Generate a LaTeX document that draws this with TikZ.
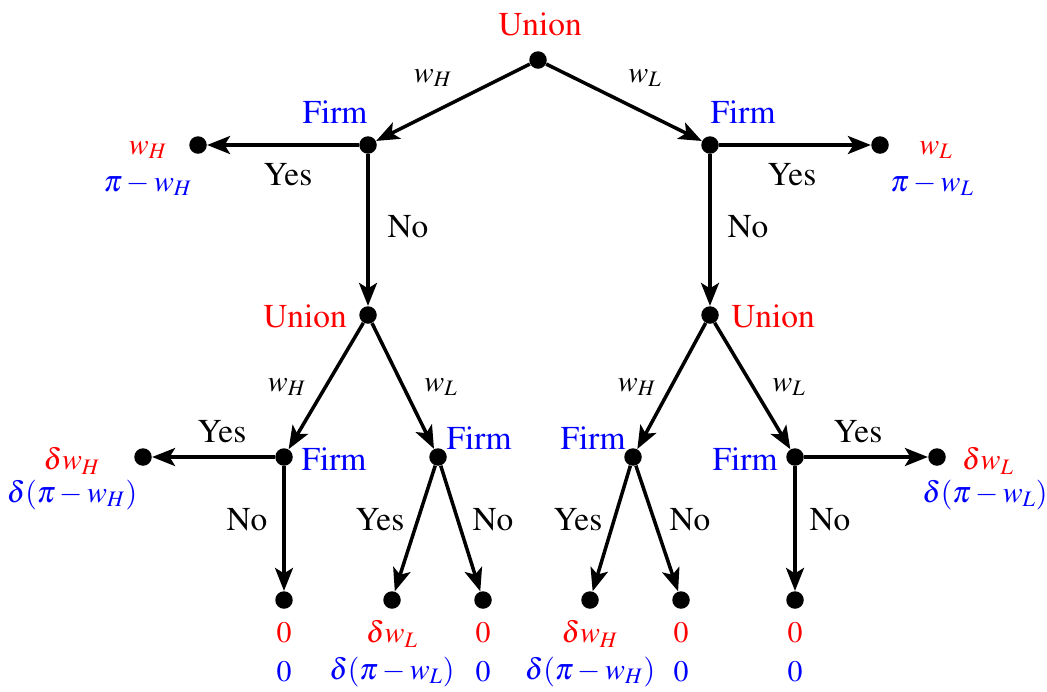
\documentclass[tikz,border=0pt]{standalone}
\usepackage[T1]{fontenc}
\usepackage{mathptmx}
\usetikzlibrary{arrows.meta}
\begin{document}
\begin{tikzpicture}[x=0.02cm,y=-0.02cm,
  dot/.style={circle,fill=black,inner sep=0pt,minimum size=0.35cm},
  edge/.style={line width=2pt,-{Stealth[length=0.46cm,width=0.36cm,inset=0.11cm]}},
  lbl/.style={font=\fontsize{19}{22}\selectfont,inner sep=0pt},
  mlb/.style={font=\fontsize{17}{20}\selectfont,inner sep=0pt},
  un/.style={lbl,text=red},
  fm/.style={lbl,text=blue},
  pr/.style={mlb,text=red},
  pb/.style={mlb,text=blue}]
\useasboundingbox (0,0) rectangle (1047,691);
% decision nodes
\node[dot] (r) at (538,60) {};
\node[dot] (fl) at (368,145) {};
\node[dot] (fr) at (710,145) {};
\node[dot] (tl) at (198,145) {};
\node[dot] (tr) at (880,145) {};
\node[dot] (ul) at (368,315) {};
\node[dot] (ur) at (710,315) {};
\node[dot] (fll) at (284,457) {};
\node[dot] (flr) at (438,457) {};
\node[dot] (frl) at (633,457) {};
\node[dot] (frr) at (795,457) {};
\node[dot] (tll) at (143,457) {};
\node[dot] (trr) at (937,457) {};
\node[dot] (n1) at (284,600) {};
\node[dot] (n2) at (392,600) {};
\node[dot] (n3) at (483,600) {};
\node[dot] (n4) at (590,600) {};
\node[dot] (n5) at (681,600) {};
\node[dot] (n6) at (795,600) {};
% player labels
\node[un] (lr) at (540,24) {Union};
\node[fm] (lfl) at (335,112) {Firm};
\node[fm] (lfr) at (743,112) {Firm};
\node[un] (lul) at (305,316) {Union};
\node[un] (lur) at (773,316) {Union};
\node[fm] (lfll) at (334,459) {Firm};
\node[fm] (lflr) at (479,438) {Firm};
\node[fm] (lfrl) at (593,438) {Firm};
\node[fm] (lfrr) at (745,459) {Firm};
% edges
\draw[edge] (r) -- (fl);
\draw[edge] (r) -- (fr);
\draw[edge] (fl) -- (tl);
\draw[edge] (fr) -- (tr);
\draw[edge] (fl) -- (ul);
\draw[edge] (fr) -- (ur);
\draw[edge] (ul) -- (fll);
\draw[edge] (ul) -- (flr);
\draw[edge] (ur) -- (frl);
\draw[edge] (ur) -- (frr);
\draw[edge] (fll) -- (tll);
\draw[edge] (fll) -- (n1);
\draw[edge] (flr) -- (n2);
\draw[edge] (flr) -- (n3);
\draw[edge] (frl) -- (n4);
\draw[edge] (frl) -- (n5);
\draw[edge] (frr) -- (n6);
\draw[edge] (frr) -- (trr);
% edge labels
\node[mlb] (e1) at (433,78) {$w_H$};
\node[mlb] (e2) at (645,78) {$w_L$};
\node[lbl] (e3) at (288,175) {Yes};
\node[lbl] (e4) at (792,175) {Yes};
\node[lbl] (e5) at (408,227) {No};
\node[lbl] (e6) at (748,227) {No};
\node[mlb] (e7) at (287,387) {$w_H$};
\node[mlb] (e8) at (441,387) {$w_L$};
\node[mlb] (e9) at (637,387) {$w_H$};
\node[mlb] (e10) at (789,387) {$w_L$};
\node[lbl] (e11) at (222,432) {Yes};
\node[lbl] (e12) at (858,432) {Yes};
\node[lbl] (e13) at (247,520) {No};
\node[lbl] (e14) at (830,520) {No};
\node[lbl] (e15) at (380,520) {Yes};
\node[lbl] (e16) at (493,520) {No};
\node[lbl] (e17) at (578,520) {Yes};
\node[lbl] (e18) at (690,520) {No};
% payoffs
\node[pr] (p1a) at (148,150) {$w_H$};
\node[pb] (p1b) at (148,185) {$\pi-w_H$};
\node[pr] (p2a) at (936,150) {$w_L$};
\node[pb] (p2b) at (932,185) {$\pi-w_L$};
\node[pr] (p3a) at (72,461) {$\delta w_H$};
\node[pb] (p3b) at (72,495) {$\delta(\pi-w_H)$};
\node[pr] (p4a) at (988,461) {$\delta w_L$};
\node[pb] (p4b) at (985,495) {$\delta(\pi-w_L)$};
\node[pr] (p5a) at (284,633) {$0$};
\node[pb] (p5b) at (284,672) {$0$};
\node[pr] (p6a) at (392,634) {$\delta w_L$};
\node[pb] (p6b) at (392,672) {$\delta(\pi-w_L)$};
\node[pr] (p7a) at (483,633) {$0$};
\node[pb] (p7b) at (483,672) {$0$};
\node[pr] (p8a) at (590,634) {$\delta w_H$};
\node[pb] (p8b) at (590,672) {$\delta(\pi-w_H)$};
\node[pr] (p9a) at (681,633) {$0$};
\node[pb] (p9b) at (681,672) {$0$};
\node[pr] (p10a) at (795,633) {$0$};
\node[pb] (p10b) at (795,672) {$0$};
\end{tikzpicture}
\end{document}
